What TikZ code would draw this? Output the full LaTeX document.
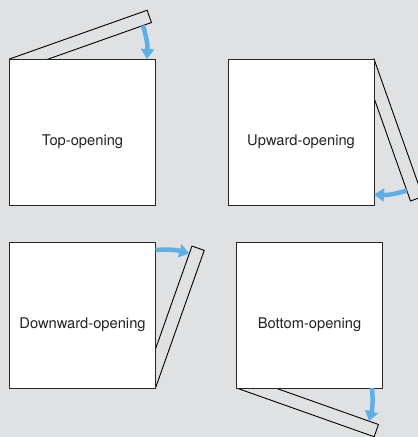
\documentclass[tikz,border=0pt]{standalone}
\usepackage{fontspec}
\setmainfont{TeX Gyre Heros}
\usetikzlibrary{arrows.meta,positioning,backgrounds}
\definecolor{panelgrey}{RGB}{224,225,227}
\definecolor{swingblue}{RGB}{92,176,230}
\definecolor{labelgrey}{RGB}{34,34,34}

\begin{document}
\begin{tikzpicture}[x=1pt, y=1pt,
  box/.style={rectangle, draw=black!85, fill=white, line width=0.9pt,
    minimum size=146pt, inner sep=0pt, outer sep=0pt},
  tag/.style={font=\fontsize{14.7}{17}\selectfont, text=labelgrey},
  lid/.style={draw=black, line width=0.9pt},
  swing/.style={-{Triangle[length=10pt, width=13pt]}, swingblue, line width=4.5pt, bend left=10}]
\useasboundingbox (0,0) rectangle (418,-437);
\node[box] (top) at (82.5,-132) {};
\node[box, right=72.5pt of top] (up) {};
\node[box, below=37pt of top] (down) {};
\node[box, right=81pt of down] (bot) {};
\node[tag] (toptag) at ([yshift=-10pt]top.center) {Top-opening};
\node[tag] (uptag) at ([yshift=-10pt]up.center) {Upward-opening};
\node[tag] (downtag) at ([yshift=-10pt]down.center) {Downward-opening};
\node[tag] (bottag) at ([yshift=-10pt]bot.center) {Bottom-opening};
\begin{pgfonlayer}{background}
\fill[panelgrey] (0,0) rectangle (418,-437);
% lids, swung out about their hinges
\begin{scope}[shift={(top.north west)}, rotate=19.5]
  \draw[lid] (0,0) rectangle (146,-13);
  \coordinate (toplid) at (137,-13);
\end{scope}
\begin{scope}[shift={(up.north east)}, rotate=19.5]
  \draw[lid] (0,0) rectangle (-13,-146);
  \coordinate (uplid) at (-13,-135);
\end{scope}
\begin{scope}[shift={(down.south east)}, rotate=-19.5]
  \draw[lid] (0,0) rectangle (-13,146);
  \coordinate (downlid) at (-13,138);
\end{scope}
\begin{scope}[shift={(bot.south west)}, rotate=-19.5]
  \draw[lid] (0,0) rectangle (146,13);
  \coordinate (botlid) at (136,13);
\end{scope}
\end{pgfonlayer}
\draw[swing] (toplid) to ([xshift=-8.5pt]top.north east);
\draw[swing] (uplid) to ([yshift=10.5pt]up.south east);
\draw[swing] ([yshift=-8pt]down.north east) to (downlid);
\draw[swing] ([xshift=-10.5pt]bot.south east) to (botlid);
\end{tikzpicture}
\end{document}
